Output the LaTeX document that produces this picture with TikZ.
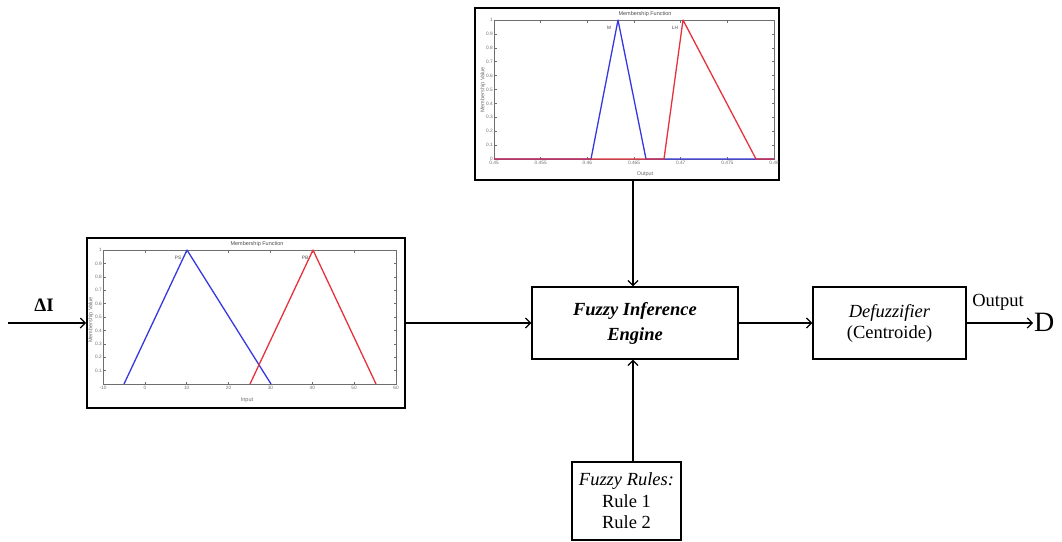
\documentclass[tikz,border=0pt]{standalone}
\usepackage{fontspec}
\setmainfont{Liberation Serif}
\newfontfamily\plotfont{Liberation Sans}
\usetikzlibrary{arrows.meta}
\definecolor{mfblue}{RGB}{55,55,225}
\definecolor{mfred}{RGB}{230,50,60}
\definecolor{axgray}{RGB}{110,110,110}
\begin{document}
\begin{tikzpicture}[x=1pt,y=-1pt,
  block/.style={draw, line width=1.4pt, align=center, inner sep=0pt,
    font=\fontsize{18.5}{22}\selectfont},
  plotframe/.style={draw, line width=1.8pt, inner sep=0pt},
  conn/.style={line width=1.2pt, -{Straight Barb[length=5pt,width=10pt,line width=1.2pt]}},
  axisline/.style={draw=axgray, line width=0.6pt},
  tick/.style={font=\plotfont\fontsize{4.8}{5}\selectfont, text=axgray, inner sep=1pt},
  ptitle/.style={font=\plotfont\fontsize{5.5}{6}\selectfont, text=black!70, inner sep=0pt},
  mfb/.style={draw=mfblue, line width=1.3pt, line join=round},
  mfr/.style={draw=mfred, line width=1.3pt, line join=round}
]
\useasboundingbox (0,0) rectangle (1062,541);

% ---------- Top plot ----------
\node[plotframe, minimum width=304pt, minimum height=172pt] (topplot) at (627,94) {};
\draw[axisline] (494,20) rectangle (774,159);
\foreach \i/\l in {0/0,1/0.1,2/0.2,3/0.3,4/0.4,5/0.5,6/0.6,7/0.7,8/0.8,9/0.9,10/1}{
  \draw[axisline] (494,{159-\i*13.9}) -- ++(2.5,0);
  \draw[axisline] (774,{159-\i*13.9}) -- ++(-2.5,0);
  \node[tick, anchor=east] (ty\i) at (494,{159-\i*13.9}) {\l};
}
\foreach \i/\l in {0/0.45,1/0.455,2/0.46,3/0.465,4/0.47,5/0.475,6/0.48}{
  \draw[axisline] ({494+\i*46.67},159) -- ++(0,-2.5);
  \draw[axisline] ({494+\i*46.67},20) -- ++(0,2.5);
  \node[tick, anchor=north] (tx\i) at ({494+\i*46.67},160) {\l};
}
\node[ptitle] (toptitle) at (645,14) {Membership Function};
\node[ptitle, text=axgray] (topxl) at (645,174) {Output};
\node[ptitle, text=axgray, rotate=90] (topyl) at (483,90) {Membership Value};
\draw[mfb] (494,159) -- (591,159) -- (618,20) -- (646,159) -- (774,159);
\draw[mfr] (494,159) -- (664,159) -- (683,20) -- (756,159) -- (774,159);
\node[tick, text=black!70] (lblM) at (609,28) {M};
\node[tick, text=black!70] (lblLH) at (675,28) {LH};

% ---------- Left plot ----------
\node[plotframe, minimum width=318pt, minimum height=170pt] (leftplot) at (246,323) {};
\draw[axisline] (103,250) rectangle (396,384);
\foreach \i/\l in {1/0.1,2/0.2,3/0.3,4/0.4,5/0.5,6/0.6,7/0.7,8/0.8,9/0.9,10/1}{
  \draw[axisline] (103,{384-\i*13.4}) -- ++(2.5,0);
  \draw[axisline] (396,{384-\i*13.4}) -- ++(-2.5,0);
  \node[tick, anchor=east] (ly\i) at (103,{384-\i*13.4}) {\l};
}
\foreach \i/\l in {0/-10,1/0,2/10,3/20,4/30,5/40,6/50,7/60}{
  \draw[axisline] ({103+\i*41.86},384) -- ++(0,-2.5);
  \draw[axisline] ({103+\i*41.86},250) -- ++(0,2.5);
  \node[tick, anchor=north] (lx\i) at ({103+\i*41.86},385) {\l};
}
\node[ptitle] (lefttitle) at (257,244) {Membership Function};
\node[ptitle, text=axgray] (leftxl) at (247,400) {Input};
\node[ptitle, text=axgray, rotate=90] (leftyl) at (91,320) {Membership Value};
\draw[mfb] (124,384) -- (187,250) -- (271,384);
\draw[mfr] (250,384) -- (313,250) -- (376,384);
\node[tick, text=black!70] (lblPS) at (178,258) {PS};
\node[tick, text=black!70] (lblPB) at (305,258) {PB};

% ---------- Blocks ----------
\node[block, minimum width=206pt, minimum height=72pt] (engine) at (635,323)
  {\textbf{\textit{Fuzzy Inference}}\\[3pt]\textbf{\textit{Engine}}};
\node[block, minimum width=153pt, minimum height=72pt] (defuzz) at (889.5,323)
  {\textit{Defuzzifier}\\[-1pt](Centroide)};
\node[block, minimum width=109pt, minimum height=78pt] (rules) at (626.5,501)
  {\textit{Fuzzy Rules:}\\[-0.5pt]Rule 1\\[-0.5pt]Rule 2};

% ---------- Input / output ----------
\coordinate (inStart) at (8,323);
\node[font=\fontsize{19}{20}\selectfont\bfseries] (dI) at (44,305) {ΔI};
\coordinate (outEnd) at (1033,323);
\node[font=\fontsize{18.5}{20}\selectfont, anchor=south] (outlbl) at (998,314) {Output};
\node[font=\fontsize{28}{30}\selectfont, anchor=west, inner sep=1pt] (D) at (1033,322) {D};

% ---------- Connectors ----------
\draw[conn] (inStart) -- (leftplot.west);
\draw[conn] (leftplot.east) -- (engine.west);
\draw[conn] (engine.east) -- (defuzz.west);
\draw[conn] (defuzz.east) -- (outEnd);
\draw[conn] (topplot.south -| 633,0) -- (engine.north -| 633,0);
\draw[conn] (rules.north -| 633,0) -- (engine.south -| 633,0);
\end{tikzpicture}
\end{document}
